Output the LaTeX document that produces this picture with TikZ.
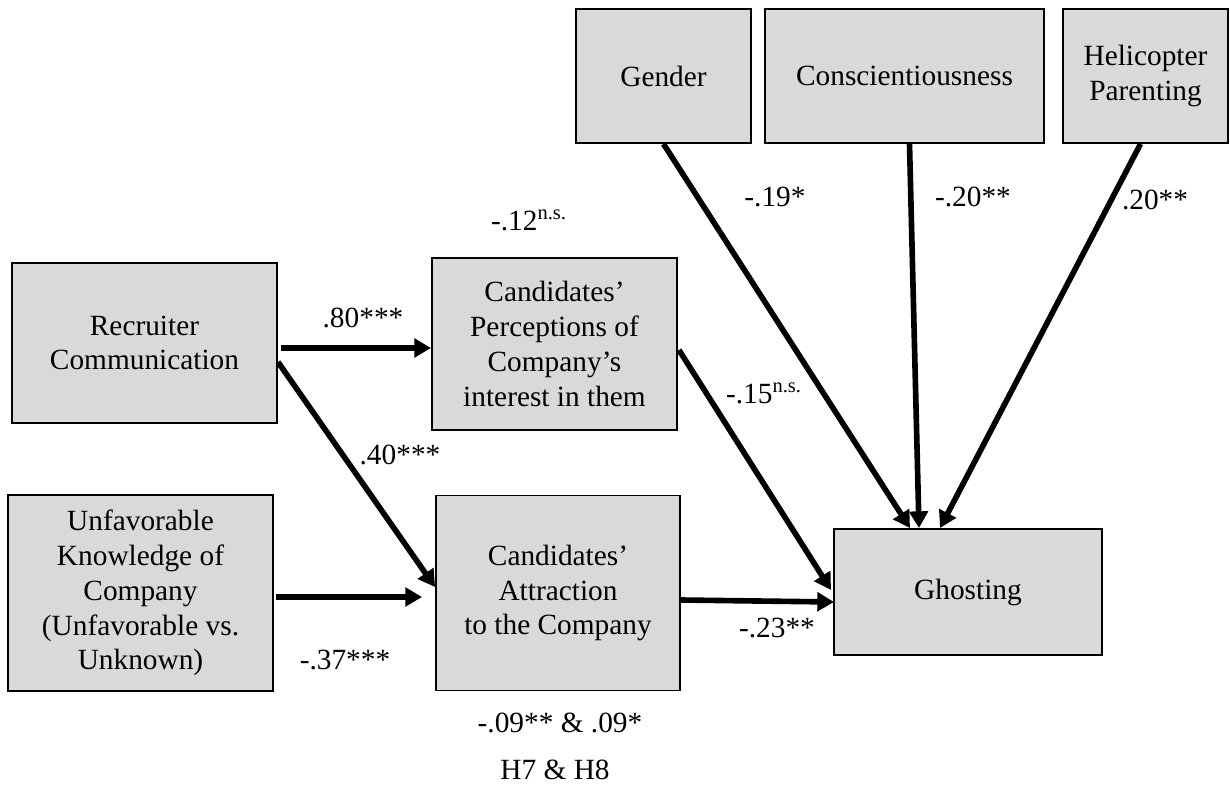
\documentclass[tikz,border=0pt]{standalone}
\usepackage{fontspec}
\setmainfont{Liberation Serif}
\usepackage{tikz}
\usetikzlibrary{calc,arrows.meta}
\definecolor{boxgray}{RGB}{217,217,217}
\tikzset{
  varbox/.style={draw,fill=boxgray,line width=1.1pt,align=center,inner sep=2pt,
    font=\fontsize{16.7}{19.8}\selectfont},
  pathline/.style={line width=3.2pt,-{Triangle[length=9.5pt,width=10.5pt]}},
  coef/.style={font=\fontsize{16.7}{19.8}\selectfont,inner sep=0pt}
}
\newcommand{\drawVar}[6]{% name, center x,y, width, height, text
  \node[varbox,minimum width=#4*0.02cm,minimum height=#5*0.02cm] (#1) at (#2,#3) {#6};
}
\begin{document}
\begin{tikzpicture}[x=0.02cm,y=-0.02cm]
\useasboundingbox (0,0) rectangle (1230,787);
% Reference grid (temporary)
%\draw[help lines,step=50] (0,0) grid (1230,787);

% Controls on top
\drawVar{gender}{663.5}{76}{175}{134}{Gender}
\drawVar{consc}{904.5}{76}{279}{134}{Conscientiousness}
\drawVar{heli}{1145.5}{76}{165}{134}{Helicopter\\Parenting}

% Predictors
\drawVar{recruit}{144.5}{343}{265}{160}{Recruiter\\Communication}
\drawVar{unfav}{140.5}{593}{265}{196}{Unfavorable\\Knowledge of\\Company\\(Unfavorable vs.\\Unknown)}

% Mediators
\drawVar{percep}{554.5}{344}{245}{172}{Candidates'\\Perceptions of\\Company's\\interest in them}
\drawVar{attract}{558}{593}{244}{195}{Candidates'\\Attraction\\to the Company}

% Outcome
\drawVar{ghost}{968}{592}{268}{126}{Ghosting}

% Paths into the mediators
\draw[pathline] ($(recruit.east)+(3,5)$) -- ($(percep.west)+(0,4)$);
\draw[pathline] ($(recruit.east)+(0,19)$) -- ($(attract.west)+(0,-6)$);
\draw[pathline] ($(unfav.east)+(2,4)$) -- ($(attract.west)+(-13,4)$);

% Paths into ghosting
\draw[pathline] ($(percep.east)+(1,6)$) -- ($(ghost.west)+(-2,-2)$);
\draw[pathline] ($(attract.east)+(0,7)$) -- ($(ghost.west)+(1,10)$);
\draw[pathline] (gender.south) -- ($(ghost.north)+(-58,0)$);
\draw[pathline] ($(consc.south)+(5,0)$) -- ($(ghost.north)+(-49,0)$);
\draw[pathline] ($(heli.south)+(-5,0)$) -- ($(ghost.north)+(-28,0)$);

% Coefficients
\node[coef] (c12) at (529,220) {-.12\textsuperscript{n.s.}};
\node[coef] (c80) at (363,318) {.80***};
\node[coef] (c40) at (400,455) {.40***};
\node[coef] (c37) at (345,660) {-.37***};
\node[coef] (c15) at (764,393) {-.15\textsuperscript{n.s.}};
\node[coef] (c23) at (777,628) {-.23**};
\node[coef] (c19) at (775,197) {-.19*};
\node[coef] (c20a) at (973,197) {-.20**};
\node[coef] (c20b) at (1155,200) {.20**};

% Indirect effects
\node[coef] (ind) at (560,723) {-.09** \& .09*};
\node[coef] (hyp) at (555,770) {H7 \& H8};
\end{tikzpicture}
\end{document}
